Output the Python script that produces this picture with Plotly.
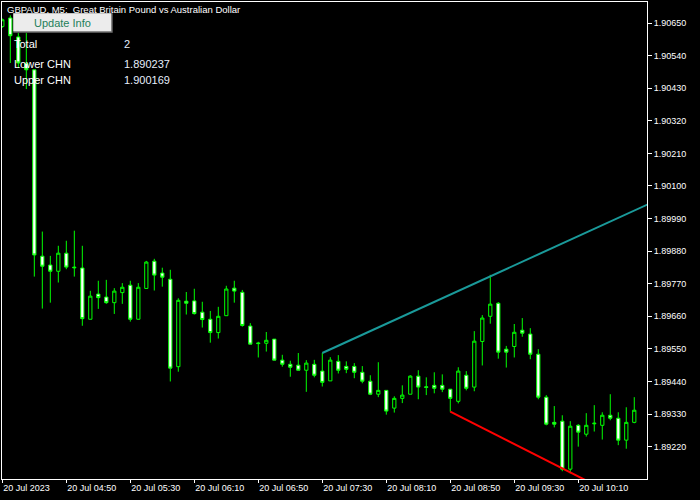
import plotly.graph_objects as go

# ---- data (GBPAUD M5, bar index 0..79) ----
bar_open = [1.90638, 1.90667, 1.90603, 1.90514, 1.90492, 1.89863, 1.89833, 1.89812, 1.89873, 1.89826,
            1.89823, 1.89650, 1.89735, 1.89725, 1.89706, 1.89740, 1.89765, 1.89650, 1.89754, 1.89846,
            1.89806, 1.89785, 1.89490, 1.89711, 1.89712, 1.89674, 1.89650, 1.89605, 1.89662, 1.89755,
            1.89741, 1.89627, 1.89570, 1.89569, 1.89583, 1.89512, 1.89498, 1.89495, 1.89478, 1.89498,
            1.89475, 1.89442, 1.89508, 1.89491, 1.89491, 1.89471, 1.89441, 1.89397, 1.89410, 1.89350,
            1.89383, 1.89397, 1.89458, 1.89422, 1.89427, 1.89427, 1.89414, 1.89373, 1.89461, 1.89421,
            1.89575, 1.89660, 1.89704, 1.89549, 1.89558, 1.89613, 1.89600, 1.89532, 1.89387, 1.89302,
            1.89306, 1.89144, 1.89292, 1.89262, 1.89297, 1.89292, 1.89326, 1.89316, 1.89242, 1.89302]
bar_high = [1.90665, 1.90676, 1.90616, 1.90616, 1.90492, 1.89946, 1.89864, 1.89898, 1.89915, 1.89949,
            1.89898, 1.89746, 1.89780, 1.89783, 1.89755, 1.89772, 1.89780, 1.89772, 1.89847, 1.89854,
            1.89824, 1.89817, 1.89721, 1.89742, 1.89753, 1.89709, 1.89678, 1.89692, 1.89763, 1.89780,
            1.89749, 1.89637, 1.89574, 1.89607, 1.89583, 1.89530, 1.89510, 1.89536, 1.89512, 1.89513,
            1.89536, 1.89522, 1.89529, 1.89508, 1.89502, 1.89492, 1.89461, 1.89505, 1.89410, 1.89390,
            1.89427, 1.89461, 1.89478, 1.89454, 1.89471, 1.89464, 1.89414, 1.89488, 1.89475, 1.89610,
            1.89664, 1.89800, 1.89708, 1.89560, 1.89634, 1.89654, 1.89620, 1.89549, 1.89394, 1.89357,
            1.89326, 1.89306, 1.89296, 1.89333, 1.89360, 1.89336, 1.89397, 1.89336, 1.89353, 1.89387]
bar_low = [1.90634, 1.90515, 1.90498, 1.90427, 1.89794, 1.89686, 1.89706, 1.89774, 1.89819, 1.89794,
           1.89628, 1.89650, 1.89685, 1.89702, 1.89668, 1.89702, 1.89642, 1.89650, 1.89754, 1.89747,
           1.89760, 1.89440, 1.89473, 1.89666, 1.89666, 1.89622, 1.89571, 1.89585, 1.89662, 1.89706,
           1.89625, 1.89566, 1.89521, 1.89541, 1.89512, 1.89490, 1.89456, 1.89478, 1.89405, 1.89454,
           1.89423, 1.89442, 1.89467, 1.89468, 1.89451, 1.89434, 1.89394, 1.89387, 1.89328, 1.89335,
           1.89367, 1.89397, 1.89380, 1.89394, 1.89400, 1.89404, 1.89338, 1.89366, 1.89410, 1.89407,
           1.89494, 1.89635, 1.89517, 1.89487, 1.89521, 1.89591, 1.89515, 1.89380, 1.89292, 1.89285,
           1.89137, 1.89130, 1.89220, 1.89254, 1.89271, 1.89244, 1.89309, 1.89225, 1.89213, 1.89299]
bar_close = [1.90661, 1.90607, 1.90515, 1.90492, 1.89867, 1.89829, 1.89812, 1.89873, 1.89826, 1.89824,
             1.89652, 1.89728, 1.89723, 1.89706, 1.89745, 1.89758, 1.89650, 1.89758, 1.89843, 1.89799,
             1.89792, 1.89485, 1.89714, 1.89704, 1.89669, 1.89649, 1.89605, 1.89660, 1.89752, 1.89745,
             1.89629, 1.89566, 1.89568, 1.89579, 1.89512, 1.89498, 1.89488, 1.89478, 1.89502, 1.89461,
             1.89437, 1.89512, 1.89478, 1.89481, 1.89471, 1.89441, 1.89397, 1.89410, 1.89340, 1.89383,
             1.89394, 1.89458, 1.89421, 1.89420, 1.89417, 1.89414, 1.89383, 1.89475, 1.89417, 1.89576,
             1.89654, 1.89701, 1.89539, 1.89539, 1.89606, 1.89603, 1.89532, 1.89387, 1.89296, 1.89296,
             1.89144, 1.89289, 1.89269, 1.89292, 1.89299, 1.89326, 1.89316, 1.89242, 1.89302, 1.89343]

time_tick_bars = [0, 8, 16, 24, 32, 40, 48, 56, 64, 72]
time_tick_labels = ["20 Jul 2023", "20 Jul 04:50", "20 Jul 05:30", "20 Jul 06:10", "20 Jul 06:50",
                    "20 Jul 07:30", "20 Jul 08:10", "20 Jul 08:50", "20 Jul 09:30", "20 Jul 10:10"]
price_ticks = [1.89220, 1.89330, 1.89440, 1.89550, 1.89660, 1.89770, 1.89880,
               1.89990, 1.90100, 1.90210, 1.90320, 1.90430, 1.90540, 1.90650]

# channel anchor points (bar index, price)
upper_chn_bars = [40, 79]
upper_chn_prices = [1.89536, 1.900169]
lower_chn_bars = [56, 79]
lower_chn_prices = [1.89338, 1.890237]

info_labels = ["Total", "Lower CHN", "Upper CHN"]
info_values = ["2", "1.890237", "1.900169"]
chart_title = "GBPAUD, M5:  Great Britain Pound vs Australian Dollar"

# ---- figure ----
x_min, x_max = -0.04, 80.59
y_min, y_max = 1.891108, 1.907209
n = len(bar_open)
xs = list(range(n))

def extend(bars, prices, x_end):
    slope = (prices[1] - prices[0]) / (bars[1] - bars[0])
    return [bars[0], x_end], [prices[0], prices[1] + slope * (x_end - bars[1])]

fig = go.Figure()
fig.add_trace(go.Candlestick(
    x=xs, open=bar_open, high=bar_high, low=bar_low, close=bar_close,
    increasing=dict(line=dict(color="#00ff00", width=1), fillcolor="#000000"),
    decreasing=dict(line=dict(color="#00ff00", width=1), fillcolor="#ffffff"),
    showlegend=False, hoverinfo="skip"))

ux, uy = extend(upper_chn_bars, upper_chn_prices, x_max + 1)
lx, ly = extend(lower_chn_bars, lower_chn_prices, x_max + 1)
fig.add_trace(go.Scatter(x=ux, y=uy, mode="lines", line=dict(color="#1a9a9a", width=2),
                         showlegend=False, hoverinfo="skip"))
fig.add_trace(go.Scatter(x=lx, y=ly, mode="lines", line=dict(color="#ff0000", width=2),
                         showlegend=False, hoverinfo="skip"))

font_axis = dict(family="Liberation Sans, Arial, sans-serif", size=9, color="#ffffff")
font_info = dict(family="Liberation Sans, Arial, sans-serif", size=11, color="#ffffff")

# plot area in pixels: x 2..647, y 2..479
PL, PR, PT, PB = 2, 647, 2, 479
def px(xp):
    return (xp - PL) / (PR - PL)
def py(yp):
    return (PB - yp) / (PB - PT)

annotations = [dict(text=chart_title, x=px(5.0), y=py(9.5), xref="paper", yref="paper",
                    xanchor="left", yanchor="middle", showarrow=False,
                    font=dict(family="Liberation Sans, Arial, sans-serif", size=9.5, color="#ffffff"))]
info_y = [43.8, 64.2, 80.2]
for lab, val, yy in zip(info_labels, info_values, info_y):
    annotations.append(dict(text=lab, x=px(12.3), y=py(yy), xref="paper", yref="paper",
                            xanchor="left", yanchor="middle", showarrow=False, font=font_info))
    annotations.append(dict(text=val, x=px(122.3), y=py(yy), xref="paper", yref="paper",
                            xanchor="left", yanchor="middle", showarrow=False,
                            font=dict(font_info, color="#e6eefc")))
annotations.append(dict(text="Update Info", x=px(62.5), y=py(22.8), xref="paper", yref="paper",
                        xanchor="center", yanchor="middle", showarrow=False,
                        font=dict(family="Liberation Sans, Arial, sans-serif", size=11, color="#1e7f5a")))

shapes = [
    dict(type="rect", xref="paper", yref="paper", x0=px(13.3), x1=px(112.7), y0=py(32.7), y1=py(13.3),
         fillcolor="#6e6e6e", line=dict(width=0), layer="above"),
    dict(type="rect", xref="paper", yref="paper", x0=px(13.3), x1=px(111.2), y0=py(31.2), y1=py(13.3),
         fillcolor="#ececec", line=dict(width=0), layer="above"),
]

fig.update_layout(
    width=700, height=500,
    margin=dict(l=PL, r=700 - PR, t=PT, b=500 - PB),
    paper_bgcolor="#000000", plot_bgcolor="#000000",
    boxgap=0.42,
    showlegend=False,
    annotations=annotations,
    shapes=shapes,
    xaxis=dict(range=[x_min, x_max], rangeslider=dict(visible=False), showgrid=False, zeroline=False,
               tickmode="array", tickvals=time_tick_bars, ticktext=time_tick_labels,
               ticks="outside", ticklen=3, tickcolor="#ffffff", tickfont=font_axis,
               ticklabelposition="outside right",
               showline=True, linecolor="#ffffff", linewidth=1, mirror=True),
    yaxis=dict(range=[y_min, y_max], side="right", showgrid=False, zeroline=False,
               tickmode="array", tickvals=price_ticks, ticktext=[f"{v:.5f}" for v in price_ticks],
               ticks="outside", ticklen=4, tickcolor="#ffffff", tickfont=font_axis,
               showline=True, linecolor="#ffffff", linewidth=1, mirror=True),
)

fig.write_html("out.html", config={"displayModeBar": False},
               post_script="document.body.style.margin='0px';document.body.style.background='#000000';")
